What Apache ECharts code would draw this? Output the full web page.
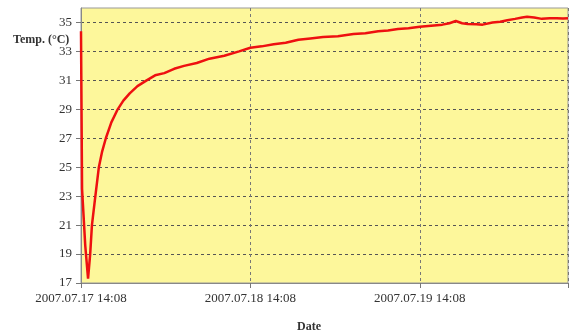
<!DOCTYPE html>
<html><head><meta charset="utf-8">
<script src="https://cdn.jsdelivr.net/npm/echarts@6/dist/echarts.min.js"></script>
<style>html,body{margin:0;padding:0;background:#fff}#c{width:571px;height:336px}</style>
</head><body><div id="c"></div>
<script>
// hours since 2007.07.17 14:08
const hours = [0, 0.15, 0.6, 1.0, 1.3, 1.55, 1.97, 2.53, 3.0, 3.52, 4.3, 5.2, 6.0, 6.9, 8.0, 9.3, 10.5, 11.8, 13.2, 14.6, 16.4, 18.2, 20.3, 22.4, 24, 25.6, 27.3, 29.0, 30.8, 32.5, 34.3, 36.4, 38.6, 40.3, 42.1, 43.5, 44.9, 46.4, 48, 49.6, 51.2, 52.2, 53.1, 54.0, 54.8, 56.0, 56.9, 58.3, 59.4, 60.4, 61.5, 62.5, 63.2, 64.2, 65.3, 66.4, 67.4, 68.3, 69];
const temps = [34.4, 23.5, 19.6, 17.3, 19.0, 21.0, 22.75, 25.0, 26.1, 27.0, 28.1, 29.0, 29.6, 30.1, 30.6, 31.0, 31.35, 31.5, 31.8, 32.0, 32.2, 32.5, 32.7, 33.0, 33.25, 33.35, 33.5, 33.6, 33.8, 33.9, 34.0, 34.05, 34.2, 34.25, 34.4, 34.45, 34.55, 34.6, 34.7, 34.78, 34.85, 34.95, 35.1, 34.95, 34.9, 34.88, 34.85, 35.0, 35.05, 35.15, 35.25, 35.35, 35.4, 35.35, 35.25, 35.3, 35.3, 35.28, 35.3];
const xTickLabels = {0: '2007.07.17 14:08', 24: '2007.07.18 14:08', 48: '2007.07.19 14:08'};
const yTickValues = [17, 19, 21, 23, 25, 27, 29, 31, 33, 35];

const data = hours.map((h, i) => [h, temps[i]]);
const serif = 'Liberation Serif';
const chart = echarts.init(document.getElementById('c'));
chart.setOption({
  animation: false,
  backgroundColor: '#fff',
  title: [
    {text: 'Temp. (°C)', left: 8, top: 29, textStyle: {fontFamily: serif, fontSize: 12, fontWeight: 'bold', color: '#333'}},
    {text: 'Date', left: 292, top: 316, textStyle: {fontFamily: serif, fontSize: 12, fontWeight: 'bold', color: '#333'}}
  ],
  grid: {left: 81, right: 0, top: 8, bottom: 53, show: true, backgroundColor: '#fdf79b', borderColor: '#999', borderWidth: 1},
  xAxis: {
    type: 'value', min: 0, max: 69, interval: 24,
    axisLine: {lineStyle: {color: '#888'}},
    axisTick: {show: true, length: 5, lineStyle: {color: '#777'}},
    axisLabel: {fontFamily: serif, fontSize: 13, color: '#333', margin: 9, formatter: v => xTickLabels[v] || ''},
    splitLine: {show: true, lineStyle: {color: '#777', type: [3, 3], width: 1}}
  },
  yAxis: {
    type: 'value', min: 17, max: 36, interval: 1,
    axisLine: {show: true, lineStyle: {color: '#888'}},
    axisTick: {show: true, length: 5, customValues: yTickValues, lineStyle: {color: '#777'}},
    axisLabel: {fontFamily: serif, fontSize: 13, color: '#333', margin: 9, customValues: yTickValues, formatter: v => (v % 2 === 1 ? String(v) : '')},
    splitLine: {show: true, lineStyle: {color: '#555', type: [3, 3], width: 1}}
  },
  series: [{
    type: 'line', data: data, showSymbol: false, smooth: false,
    lineStyle: {color: '#ee1010', width: 2.5}
  }]
});
</script></body></html>
